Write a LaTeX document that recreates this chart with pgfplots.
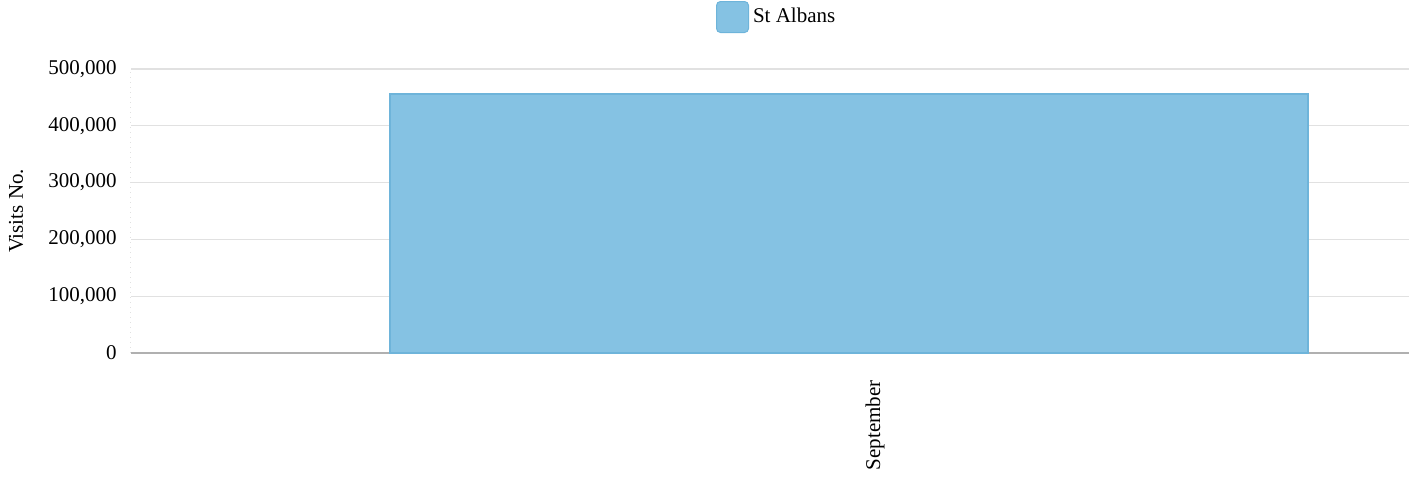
\documentclass[border=0pt]{standalone}
\usepackage{pgfplots}
\pgfplotsset{compat=1.18}
\usepackage{fontspec}
\setmainfont{Liberation Serif}
\definecolor{barfill}{RGB}{133,194,227}
\definecolor{barline}{RGB}{110,180,218}
\definecolor{gridc}{RGB}{225,225,225}
\definecolor{axisc}{RGB}{176,176,176}
\begin{document}
\begin{tikzpicture}
\path[use as bounding box] (-65.5pt,-62pt) rectangle (643.5pt,176.5pt);
\begin{axis}[
  at={(0,0)}, anchor=south west,
  scale only axis, width=639pt, height=142pt,
  xmin=-0.782, xmax=0.610,
  ymin=0, ymax=500000,
  ytick={0,100000,200000,300000,400000,500000},
  yticklabels={0,{100,000},{200,000},{300,000},{400,000},{500,000}},
  scaled y ticks=false,
  xtick={0}, xticklabels={September},
  major tick length=0pt,
  font=\fontsize{10.5}{12}\selectfont,
  axis x line*=bottom, axis y line*=left,
  x axis line style={draw=axisc, line width=0.6pt},
  y axis line style={draw=gridc, dotted, line width=0.5pt},
  ymajorgrids, grid style={draw=gridc, line width=0.6pt},
  yticklabel style={inner sep=0pt, anchor=east},
  yticklabel shift=7pt,
  xticklabel style={inner sep=0pt, xshift=13pt, rotate=90, anchor=east},
  xticklabel shift=13.5pt,
  ylabel={Visits No.},
  every axis y label/.style={at={(axis description cs:0,0.5)}, xshift=-57.5pt, rotate=90, anchor=center},
  legend style={at={(0.506,1)}, anchor=center, yshift=26pt, draw=none, fill=none, font=\fontsize{10.5}{12}\selectfont},
  legend image code/.code={\draw[rounded corners=2pt, fill=barfill, draw=barline, line width=0.5pt] (0pt,-7.75pt) rectangle (16pt,7.75pt);},
  clip=false,
]
\addplot[ybar, bar width=459pt, fill=barfill, draw=barline, line width=0.6pt] coordinates {(0,456000)};
\addlegendentry{St Albans}
\end{axis}
\end{tikzpicture}
\end{document}
